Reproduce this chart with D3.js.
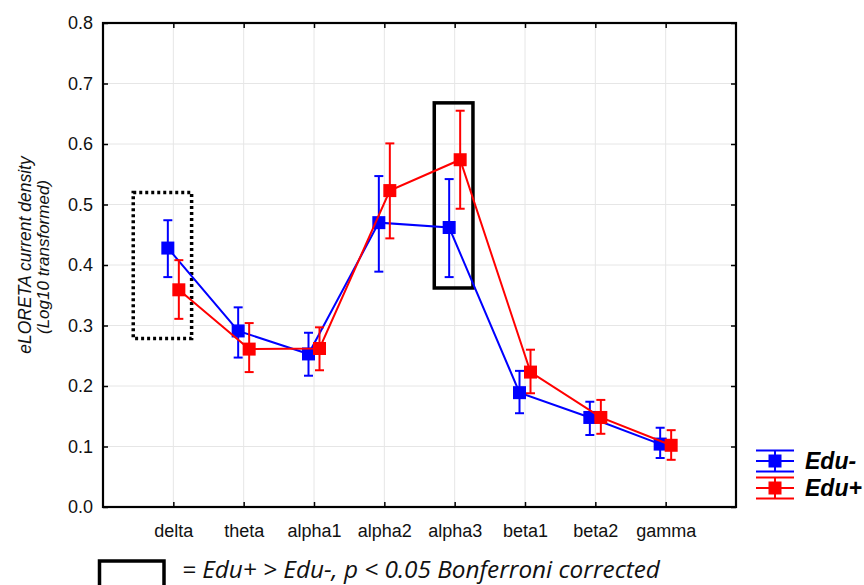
<!DOCTYPE html>
<html>
<head>
<meta charset="utf-8">
<script src="https://cdn.jsdelivr.net/npm/d3@7"></script>
<style>
  body { margin: 0; background: #fff; }
  svg { display: block; }
</style>
</head>
<body>
<div id="chart"></div>
<script>
(function() {
  var width = 864, height = 585;
  var sans = "'Liberation Sans', Arial, sans-serif";

  // frequency bands on the x axis
  var bands = ["delta", "theta", "alpha1", "alpha2", "alpha3", "beta1", "beta2", "gamma"];

  // Edu- group (blue): mean, lower and upper error bar ends
  var eduMinusMean = [0.428, 0.291, 0.253, 0.470, 0.462, 0.189, 0.148, 0.104];
  var eduMinusLow  = [0.380, 0.247, 0.217, 0.389, 0.380, 0.155, 0.119, 0.081];
  var eduMinusHigh = [0.474, 0.330, 0.288, 0.547, 0.542, 0.225, 0.174, 0.131];

  // Edu+ group (red)
  var eduPlusMean = [0.359, 0.261, 0.262, 0.523, 0.574, 0.223, 0.148, 0.102];
  var eduPlusLow  = [0.311, 0.223, 0.226, 0.444, 0.493, 0.188, 0.121, 0.078];
  var eduPlusHigh = [0.408, 0.304, 0.297, 0.601, 0.655, 0.260, 0.177, 0.127];

  var yTicks = [0.0, 0.1, 0.2, 0.3, 0.4, 0.5, 0.6, 0.7, 0.8];

  // highlight boxes: [band index, x offset left, x offset right, y low, y high]
  var dottedBox = [0, -0.57, 0.26, 0.2785, 0.520];
  var solidBox  = [4, -0.29, 0.26, 0.362, 0.668];

  var series = [
    { name: "Edu-", color: "#0000ff", shift: -5.5, mean: eduMinusMean, low: eduMinusLow, high: eduMinusHigh },
    { name: "Edu+", color: "#ff0000", shift: 5.5, mean: eduPlusMean, low: eduPlusLow, high: eduPlusHigh }
  ];

  var plot = { left: 103, right: 736, top: 23, bottom: 507 };

  var x = d3.scaleLinear().domain([-1, bands.length]).range([plot.left, plot.right]);
  var y = d3.scaleLinear().domain([0, 0.8]).range([plot.bottom, plot.top]);

  var svg = d3.select("#chart").append("svg")
      .attr("width", width)
      .attr("height", height)
      .style("font-family", sans);

  // grid
  svg.append("g").selectAll("line")
      .data(yTicks.slice(1, -1))
      .join("line")
        .attr("x1", plot.left).attr("x2", plot.right)
        .attr("y1", d => y(d)).attr("y2", d => y(d))
        .attr("stroke", "#e6e6e6").attr("stroke-width", 1);

  svg.append("g").selectAll("line")
      .data(bands)
      .join("line")
        .attr("x1", (d, i) => x(i)).attr("x2", (d, i) => x(i))
        .attr("y1", plot.top).attr("y2", plot.bottom)
        .attr("stroke", "#e6e6e6").attr("stroke-width", 1);

  // axes with inward ticks on all four sides
  var idx = bands.map((d, i) => i);

  svg.append("g")
      .attr("transform", `translate(0,${plot.bottom})`)
      .call(d3.axisBottom(x).tickValues(idx).tickSizeInner(-5).tickSizeOuter(0).tickPadding(17).tickFormat(i => bands[i]))
      .call(g => g.select(".domain").remove())
      .call(g => g.attr("font-family", sans))
      .call(g => g.selectAll("text").attr("font-size", "18px").attr("fill", "#111"));

  svg.append("g")
      .attr("transform", `translate(0,${plot.top})`)
      .call(d3.axisTop(x).tickValues(idx).tickSizeInner(-5).tickSizeOuter(0).tickFormat(""))
      .call(g => g.select(".domain").remove());

  svg.append("g")
      .attr("transform", `translate(${plot.left},0)`)
      .call(d3.axisLeft(y).tickValues(yTicks).tickSizeInner(-5).tickSizeOuter(0).tickPadding(10).tickFormat(d3.format(".1f")))
      .call(g => g.select(".domain").remove())
      .call(g => g.attr("font-family", sans))
      .call(g => g.selectAll("text").attr("font-size", "18px").attr("fill", "#111"));

  svg.append("g")
      .attr("transform", `translate(${plot.right},0)`)
      .call(d3.axisRight(y).tickValues(yTicks).tickSizeInner(-5).tickSizeOuter(0).tickFormat(""))
      .call(g => g.select(".domain").remove());

  svg.selectAll(".tick line").attr("stroke", "#000").attr("stroke-width", 1.5);

  svg.append("rect")
      .attr("x", plot.left).attr("y", plot.top)
      .attr("width", plot.right - plot.left).attr("height", plot.bottom - plot.top)
      .attr("fill", "none").attr("stroke", "#000").attr("stroke-width", 2.2);

  // highlight boxes
  function drawBox(b) {
    return svg.append("rect")
        .attr("x", x(b[0] + b[1]))
        .attr("y", y(b[4]))
        .attr("width", x(b[0] + b[2]) - x(b[0] + b[1]))
        .attr("height", y(b[3]) - y(b[4]))
        .attr("fill", "none").attr("stroke", "#000");
  }
  drawBox(dottedBox).attr("stroke-width", 3.5).attr("stroke-dasharray", "3,3");
  drawBox(solidBox).attr("stroke-width", 3.5);

  // series
  var line = d3.line();
  series.forEach(s => {
    var g = svg.append("g");
    var pts = s.mean.map((v, i) => [x(i) + s.shift, y(v)]);

    g.append("path")
        .attr("d", line(pts))
        .attr("fill", "none").attr("stroke", s.color).attr("stroke-width", 2);

    var eb = g.selectAll(".eb")
        .data(s.mean.map((v, i) => ({ i: i, lo: s.low[i], hi: s.high[i] })))
        .join("g");
    eb.append("line")
        .attr("x1", d => x(d.i) + s.shift).attr("x2", d => x(d.i) + s.shift)
        .attr("y1", d => y(d.lo)).attr("y2", d => y(d.hi))
        .attr("stroke", s.color).attr("stroke-width", 2);
    [d => d.lo, d => d.hi].forEach(f => {
      eb.append("line")
          .attr("x1", d => x(d.i) + s.shift - 4.5).attr("x2", d => x(d.i) + s.shift + 4.5)
          .attr("y1", d => y(f(d))).attr("y2", d => y(f(d)))
          .attr("stroke", s.color).attr("stroke-width", 2);
    });

    g.selectAll("rect")
        .data(pts)
        .join("rect")
          .attr("x", d => d[0] - 6.5).attr("y", d => d[1] - 6.5)
          .attr("width", 13).attr("height", 13)
          .attr("fill", s.color);
  });

  // y axis title
  svg.append("text")
      .attr("transform", "translate(31,255) rotate(-90)")
      .attr("text-anchor", "middle")
      .attr("font-size", "17.5px").attr("font-style", "italic").attr("fill", "#111")
      .text("eLORETA current density");
  svg.append("text")
      .attr("transform", "translate(49,257) rotate(-90)")
      .attr("text-anchor", "middle")
      .attr("font-size", "17px").attr("font-style", "italic").attr("fill", "#111")
      .text("(Log10 transformed)");

  // legend
  var legend = svg.append("g");
  series.forEach((s, k) => {
    var cy = 461 + k * 27, lx0 = 756, lx1 = 794, cx = 775;
    var lg = legend.append("g");
    [-10.5, 0, 10.5].forEach(dy => {
      lg.append("line")
          .attr("x1", lx0).attr("x2", lx1).attr("y1", cy + dy).attr("y2", cy + dy)
          .attr("stroke", s.color).attr("stroke-width", 2);
    });
    lg.append("line")
        .attr("x1", cx).attr("x2", cx).attr("y1", cy - 10.5).attr("y2", cy + 10.5)
        .attr("stroke", s.color).attr("stroke-width", 2);
    lg.append("rect")
        .attr("x", cx - 6.5).attr("y", cy - 6.5).attr("width", 13).attr("height", 13)
        .attr("fill", s.color);
    lg.append("text")
        .attr("x", 805).attr("y", cy + 8)
        .attr("font-size", "23px").attr("font-weight", "bold").attr("font-style", "italic")
        .attr("fill", "#000")
        .text(s.name);
  });

  // footnote
  svg.append("rect")
      .attr("x", 99.5).attr("y", 561)
      .attr("width", 64.5).attr("height", 40)
      .attr("fill", "none").attr("stroke", "#000").attr("stroke-width", 3.5);

  var note = svg.append("text")
      .attr("x", 182).attr("y", 578)
      .attr("font-family", "'Open Sans', sans-serif")
      .attr("font-style", "italic")
      .attr("font-size", "22px")
      .attr("fill", "#111")
      .text("= Edu+ > Edu-, p < 0.05 Bonferroni corrected");
  var w = note.node().getComputedTextLength();
  if (w > 0) note.attr("font-size", (22 * 478 / w).toFixed(2) + "px");
})();
</script>
</body>
</html>
